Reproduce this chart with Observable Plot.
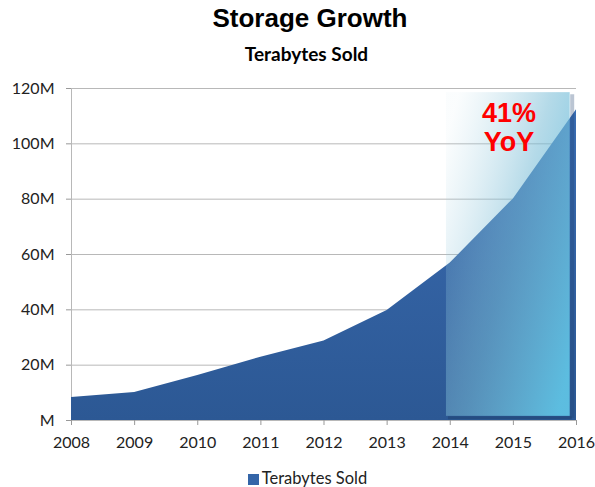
<!DOCTYPE html>
<html>
<head>
<meta charset="utf-8">
<script src="https://cdn.jsdelivr.net/npm/d3@7"></script>
<script src="https://cdn.jsdelivr.net/npm/@observablehq/plot@0.6"></script>
<style>
  body { margin: 0; background: #fff; width: 595px; height: 487px; overflow: hidden; }
  #title { position: absolute; left: 0; top: 3px; width: 620px; text-align: center;
           font: bold 26px "Liberation Sans", Arial, sans-serif; color: #000; }
  #subtitle { position: absolute; left: 0; top: 42px; width: 613px; text-align: center;
           font: bold 19px Lato, "Open Sans", sans-serif; color: #000; }
  #chart { position: absolute; left: 0; top: 75px; }
  #legend { position: absolute; left: 0; top: 468px; width: 615px; text-align: center;
           font: 16.5px Lato, "Open Sans", sans-serif; color: #222; }
  #legend .sw { display: inline-block; width: 11px; height: 11px; background: #3465a8;
           margin-right: 3px; vertical-align: -1px; }
</style>
</head>
<body>
<div id="title">Storage Growth</div>
<div id="subtitle">Terabytes Sold</div>
<div id="chart"></div>
<div id="legend"><span class="sw"></span>Terabytes Sold</div>
<script>
const years = [2008, 2009, 2010, 2011, 2012, 2013, 2014, 2015, 2016];
const terabytesSold = [8.3e6, 10.1e6, 16.3e6, 22.9e6, 28.7e6, 39.8e6, 56.9e6, 80.1e6, 112.3e6];
const yTicks = [0, 20e6, 40e6, 60e6, 80e6, 100e6, 120e6];
const highlight = [{x1: 2013.94, x2: 2015.9, y1: 1.5e6, y2: 118.5e6}];
const annotationLines = ["41%", "YoY"];
const annotationY = [111e6, 100.5e6];
const annotationX = 2014.93;

const data = years.map((y, i) => ({year: y, value: terabytesSold[i]}));
const notes = annotationLines.map((t, i) => ({text: t, y: annotationY[i]}));
const fmtY = d => d === 0 ? "M" : (d / 1e6) + "M";

const plot = Plot.plot({
  width: 595,
  height: 375,
  marginTop: 13,
  marginBottom: 30,
  marginLeft: 71,
  marginRight: 19,
  style: {fontFamily: "Lato, 'Open Sans', sans-serif", fontSize: "16px", color: "#222", background: "transparent"},
  x: {domain: [2008, 2016], label: null},
  y: {domain: [0, 120e6], label: null},
  marks: [
    Plot.gridY(yTicks, {stroke: "#b8b8b8", strokeOpacity: 1, strokeWidth: 1}),
    Plot.ruleX([2008], {stroke: "#b8b8b8"}),
    Plot.areaY(data, {x: "year", y: "value", fill: "url(#areaGrad)"}),
    Plot.ruleX(highlight, {x: "x2", y1: "y1", y2: "y2", stroke: "#1e3f6e", strokeOpacity: 0.3, strokeWidth: 4, dx: 2, dy: 2}),
    Plot.ruleY(highlight, {y: "y1", x1: "x1", x2: "x2", stroke: "#1e3f6e", strokeOpacity: 0.5, strokeWidth: 3, dx: 2, dy: 1.5}),
    Plot.rect(highlight, {x1: "x1", x2: "x2", y1: "y1", y2: "y2", fill: "url(#hlGrad)"}),
    Plot.axisX({ticks: years, tickFormat: d => String(d), tickSize: 5, tickPadding: 11, stroke: "#999", fontSize: 16}),
    Plot.axisY({ticks: yTicks, tickFormat: fmtY, tickSize: 5, tickPadding: 12, stroke: "#999", fontSize: 16}),
    Plot.text(notes, {x: () => annotationX, y: "y", text: "text", fill: "#ff0000",
      fontSize: 27, fontWeight: "bold", fontFamily: "'Liberation Sans', Arial, sans-serif", lineAnchor: "middle"})
  ]
});

const ns = "http://www.w3.org/2000/svg";
const defs = document.createElementNS(ns, "defs");
defs.innerHTML = `
  <linearGradient id="areaGrad" x1="0" y1="0" x2="0" y2="1">
    <stop offset="0" stop-color="#3a6cb2"/>
    <stop offset="1" stop-color="#2c5894"/>
  </linearGradient>
  <linearGradient id="hlGrad" x1="0" y1="0.15" x2="1" y2="0.85">
    <stop offset="0" stop-color="#a8d2e2" stop-opacity="0.05"/>
    <stop offset="0.5" stop-color="#78bcd6" stop-opacity="0.55"/>
    <stop offset="1" stop-color="#5ec0e2" stop-opacity="0.97"/>
  </linearGradient>`;
plot.insertBefore(defs, plot.firstChild);
document.getElementById("chart").appendChild(plot);
</script>
</body>
</html>
